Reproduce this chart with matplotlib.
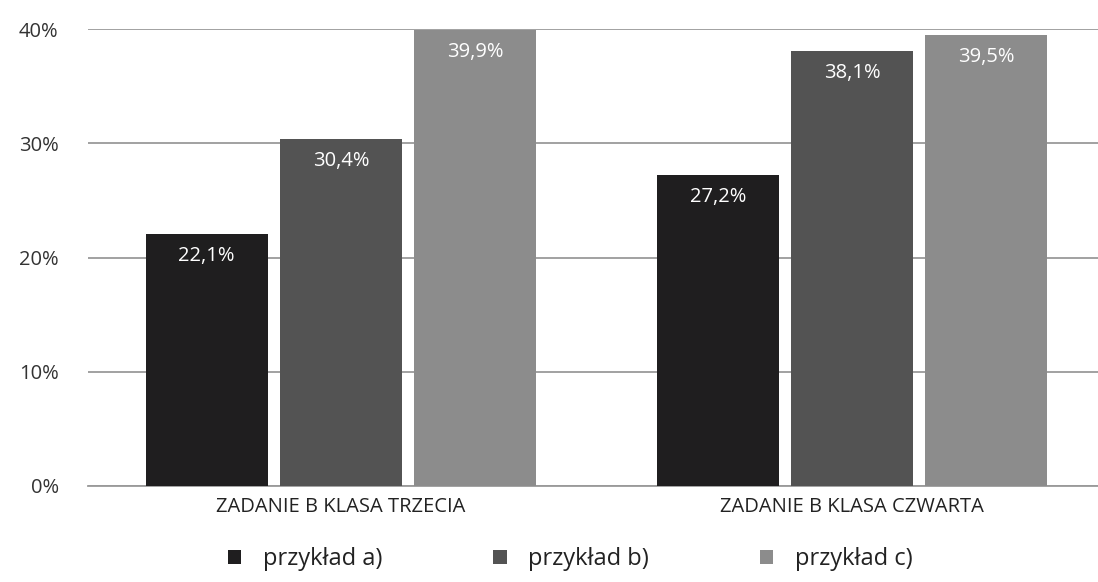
import matplotlib
matplotlib.use("Agg")
import matplotlib.pyplot as plt
import numpy as np

categories = ["ZADANIE B KLASA TRZECIA", "ZADANIE B KLASA CZWARTA"]
series_names = ["przykład a)", "przykład b)", "przykład c)"]
values_a = [22.1, 27.2]
values_b = [30.4, 38.1]
values_c = [39.9, 39.5]
yticks = [0, 10, 20, 30, 40]

colors = ["#1f1e1f", "#535353", "#8c8c8c"]
font = "Open Sans"

fig = plt.figure(figsize=(10.98, 5.82), dpi=100)
ax = fig.add_axes([0.080, 0.165, 0.925, 0.785])

x = np.arange(len(categories))
width = 0.238
step = 0.2625
series = [values_a, values_b, values_c]
for i, (vals, col, name) in enumerate(zip(series, colors, series_names)):
    pos = x + (i - 1) * step
    bars = ax.bar(pos, vals, width=width, color=col, label=name, zorder=3)
    for b, v in zip(bars, vals):
        ax.text(b.get_x() + b.get_width() / 2, v - 1.05,
                f"{v:.1f}%".replace(".", ","), ha="center", va="top",
                color="white", fontsize=14.5, family=font, zorder=4)

ax.set_xlim(-0.495, 1.492)
ax.set_ylim(0, 40)
ax.set_yticks(yticks)
ax.set_yticklabels([f"{t}%" for t in yticks], family=font, fontsize=14.5, color="#333333")
ax.tick_params(axis="y", length=0, pad=21)
ax.set_xticks(x)
ax.set_xticklabels(categories, family=font, fontsize=14.5, color="#222222")
ax.tick_params(axis="x", length=0, pad=8)

ax.yaxis.grid(True, color="#9a9a9a", linewidth=1.3, zorder=0)
ax.set_axisbelow(True)
for s in ax.spines.values():
    s.set_visible(False)
ax.axhline(0, color="#9a9a9a", linewidth=1.3, zorder=2, clip_on=False)

leg = fig.legend(loc="lower center", bbox_to_anchor=(0.519, -0.014), ncol=3,
                 frameon=False, prop={"family": font, "size": 17},
                 handlelength=0.58, handleheight=0.58, columnspacing=4.7,
                 handletextpad=0.9, borderpad=0.3)
for t in leg.get_texts():
    t.set_color("#222222")

fig.savefig("out.png", dpi=100)
